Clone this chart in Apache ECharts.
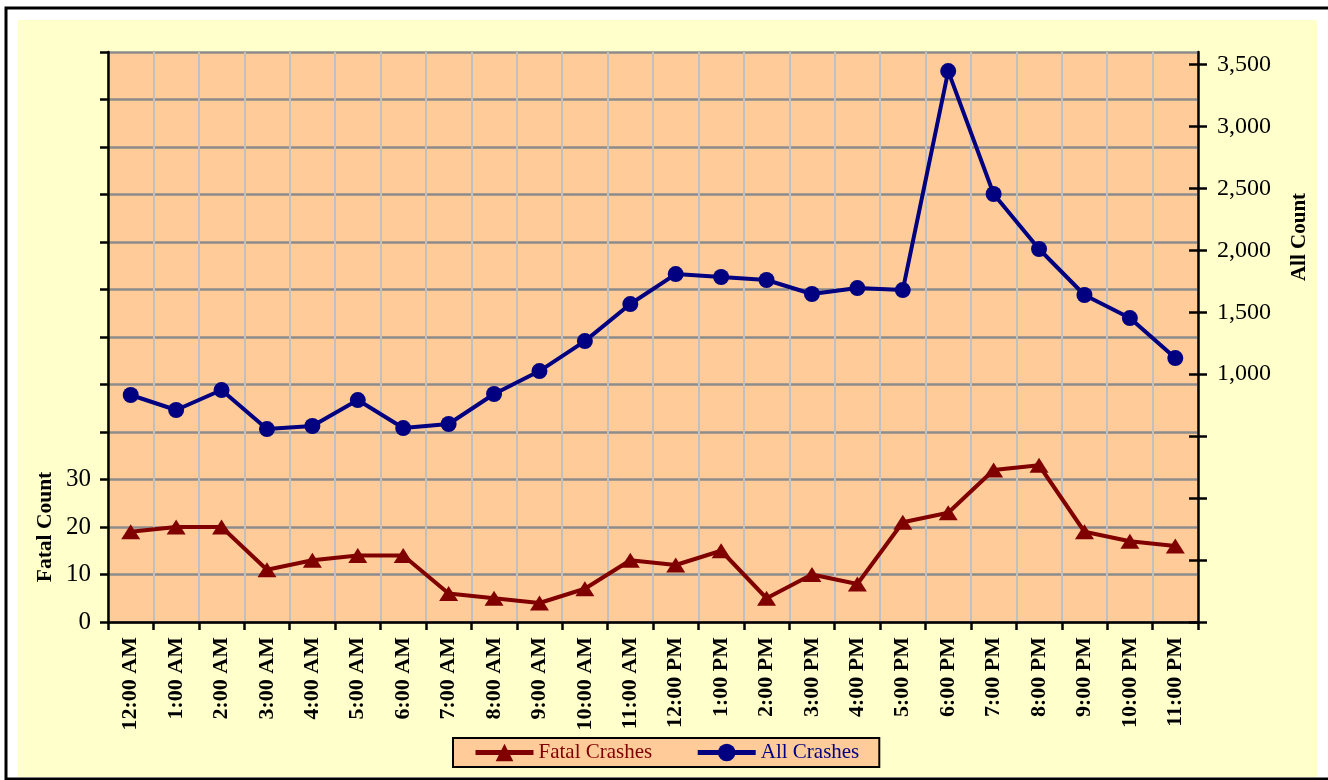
<!DOCTYPE html>
<html><head><meta charset="utf-8">
<script src="https://cdn.jsdelivr.net/npm/echarts@6/dist/echarts.min.js"></script>
<style>html,body{margin:0;padding:0;background:#fff}#c{width:1328px;height:780px}</style>
</head><body><div id="c"></div>
<script>
const hours = ['12:00 AM','1:00 AM','2:00 AM','3:00 AM','4:00 AM','5:00 AM','6:00 AM','7:00 AM','8:00 AM','9:00 AM','10:00 AM','11:00 AM','12:00 PM','1:00 PM','2:00 PM','3:00 PM','4:00 PM','5:00 PM','6:00 PM','7:00 PM','8:00 PM','9:00 PM','10:00 PM','11:00 PM'];
const fatalCrashes = [19,20,20,11,13,14,14,6,5,4,7,13,12,15,5,10,8,21,23,32,33,19,17,16];
const allCrashes = [832,711,872,557,582,791,565,598,840,1025,1267,1566,1808,1784,1760,1647,1695,1679,3446,2454,2010,1639,1453,1130];
const fatalLabels = [0,10,20,30];
const allTicks = [-1000,-500,0,500,1000,1500,2000,2500,3000,3500];
const allLabels = [1000,1500,2000,2500,3000,3500];

const FONT = '"Times New Roman","Liberation Serif",serif';
const chart = echarts.init(document.getElementById('c'));
chart.setOption({
  backgroundColor: '#ffffff',
  animation: false,
  graphic: [
    {type:'rect', z:-100, shape:{x:6,y:8,width:1340,height:771}, style:{fill:'#ffffff', stroke:'#000', lineWidth:3}},
    {type:'rect', z:-99, shape:{x:18,y:20,width:1299,height:757}, style:{fill:'#FFFFCC'}},
    {type:'text', z:100, x:45, y:527, rotation:Math.PI/2, style:{text:'Fatal Count', font:'bold 21.5px '+FONT, fill:'#000', align:'center', verticalAlign:'middle'}},
    {type:'text', z:100, x:1300, y:237, rotation:Math.PI/2, style:{text:'All Count', font:'bold 21px '+FONT, fill:'#000', align:'center', verticalAlign:'middle'}}
  ],
  grid: {left:108, top:52, right:130, bottom:158, show:true, backgroundColor:'#FFCC99', borderWidth:0},
  legend: {
    left: 453, top: 738,
    padding: [4, 20, 4, 20],
    backgroundColor: '#FFCC99', borderColor: '#000', borderWidth: 2, borderRadius: 0,
    itemWidth: 58, itemHeight: 22, itemGap: 43,
    lineStyle: {width: 5},
    textStyle: {fontFamily: FONT, fontSize: 21},
    data: [
      {name:'Fatal Crashes', textStyle:{color:'#800000'}},
      {name:'All Crashes', textStyle:{color:'#000080'}}
    ]
  },
  xAxis: {
    type: 'category', data: hours, boundaryGap: true,
    axisLine: {lineStyle:{color:'#000', width:2.5}},
    axisTick: {show:true, length:8, interval:0, lineStyle:{color:'#000', width:2.5}},
    splitLine: {show:true, interval:0, lineStyle:{color:'#C0C0C0', width:2}},
    axisLabel: {interval:0, rotate:90, margin:15, fontFamily:FONT, fontWeight:'bold', fontSize:22, color:'#000'}
  },
  yAxis: [
    {
      type:'value', position:'left', min:0, max:120, interval:10,
      axisLine:{show:true, lineStyle:{color:'#000', width:2.5}},
      axisTick:{show:true, length:8, lineStyle:{color:'#000', width:2.5}},
      splitLine:{show:true, lineStyle:{color:'#8C8C8C', width:2.5}},
      axisLabel:{customValues:fatalLabels, margin:17, fontFamily:FONT, fontSize:25, color:'#000'}
    },
    {
      type:'value', position:'right', min:-1000, max:3600, interval:500,
      axisLine:{show:true, lineStyle:{color:'#000', width:2.5}},
      axisTick:{show:true, customValues:allTicks, length:9, lineStyle:{color:'#000', width:2.5}},
      splitLine:{show:false},
      axisLabel:{customValues:allLabels, margin:19, fontFamily:FONT, fontSize:24, color:'#000',
        formatter: v => v.toLocaleString('en-US')}
    },
    {
      type:'value', position:'right', min:-1000, max:3600, interval:500,
      axisLine:{show:false},
      axisTick:{show:true, inside:true, customValues:allTicks, length:9, lineStyle:{color:'#000', width:2.5}},
      splitLine:{show:false},
      axisLabel:{show:false}
    }
  ],
  series: [
    {
      name:'Fatal Crashes', type:'line', yAxisIndex:0, data:fatalCrashes,
      symbol:'triangle', symbolSize:[19,15], showAllSymbol:true,
      itemStyle:{color:'#800000'}, lineStyle:{color:'#800000', width:4}, z:5
    },
    {
      name:'All Crashes', type:'line', yAxisIndex:1, data:allCrashes,
      symbol:'circle', symbolSize:16, showAllSymbol:true,
      itemStyle:{color:'#000080'}, lineStyle:{color:'#000080', width:4}, z:4
    }
  ]
});
</script></body></html>
